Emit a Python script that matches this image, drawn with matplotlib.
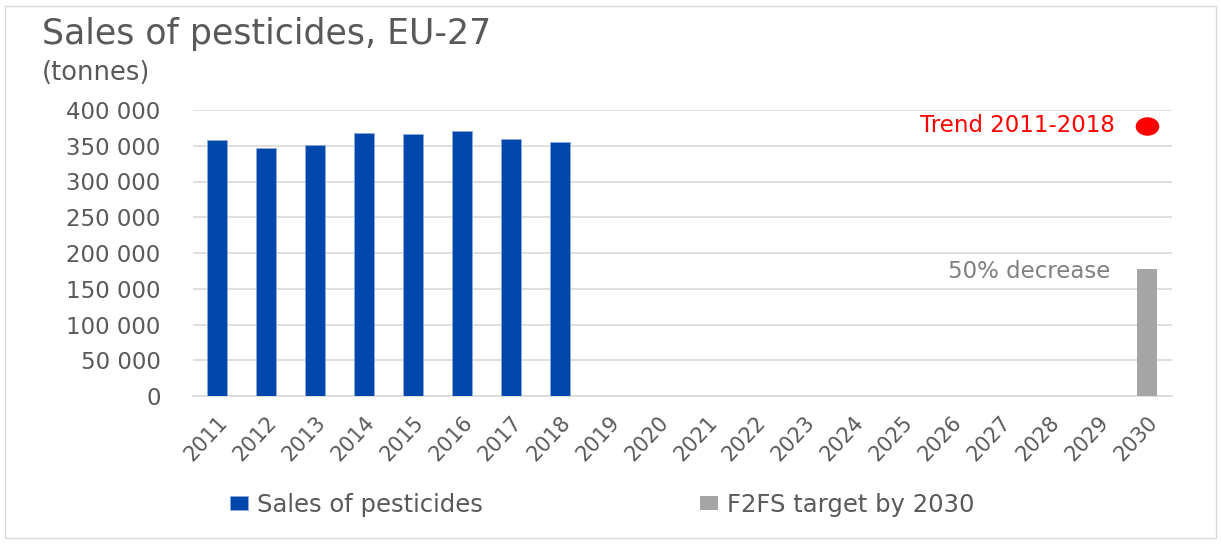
import matplotlib.pyplot as plt
import matplotlib.ticker as mticker
from matplotlib.path import Path
from matplotlib.transforms import Affine2D

# Data
years = [str(y) for y in range(2011, 2031)]
sales = [358000, 347500, 351000, 368500, 366000, 370500, 359000, 355500]
target_2030 = 177700
trend_2030 = 378000

plt.rcParams['font.family'] = ['DejaVu Sans']
txt = '#595959'

fig = plt.figure(figsize=(12.21, 5.44), dpi=100)
ax = fig.add_axes([192.5 / 1221, 1 - 396 / 544, (1171.5 - 192.5) / 1221, (396 - 110) / 544])

x = list(range(len(years)))
ax.bar(x[:len(sales)], sales, width=0.41, color='#0047AB', edgecolor='#8faadc', linewidth=0.6,
       label='Sales of pesticides', zorder=3)
ax.bar([x[-1]], [target_2030], width=0.41, color='#A5A5A5', label='F2FS target by 2030', zorder=3)
# slightly wide dot, as in the original
oval = Path.unit_circle().transformed(Affine2D().scale(1.3, 1.0))
ax.plot([x[-1]], [trend_2030], marker=oval, linestyle='none', color='red', markersize=16, zorder=4)

ax.set_xlim(-0.5, len(years) - 0.5)
ax.set_ylim(0, 400000)
ax.yaxis.set_major_locator(mticker.MultipleLocator(50000))
ax.yaxis.set_major_formatter(mticker.FuncFormatter(lambda v, p: f'{int(v):,}'.replace(',', ' ')))
ax.grid(axis='y', color='#d9d9d9', linewidth=1.2, zorder=0)
for s in ['top', 'right', 'left']:
    ax.spines[s].set_visible(False)
ax.spines['bottom'].set_color('#d9d9d9')
ax.spines['bottom'].set_linewidth(1.2)
ax.tick_params(axis='both', length=0, colors=txt)
ax.tick_params(axis='y', labelsize=16.5, pad=23)
ax.set_xticks(x)
ax.set_xticklabels(years, rotation=47, ha='right', rotation_mode='anchor', fontsize=15, color=txt)
ax.tick_params(axis='x', pad=12)

ax.text(x[-1] - 0.65, trend_2030, 'Trend 2011-2018', color='red', fontsize=16.5,
        ha='right', va='center')
ax.text(x[-1] - 0.75, target_2030 - 3000, '50% decrease', color='#808080', fontsize=16.5,
        ha='right', va='center')

fig.text(42 / 1221, 1 - 34 / 544, 'Sales of pesticides, EU-27', fontsize=25, color=txt, va='center')
fig.text(42 / 1221, 1 - 73 / 544, '(tonnes)', fontsize=18.5, color=txt, va='center')

leg = fig.legend(loc='center left', bbox_to_anchor=(230 / 1221, 1 - 505 / 544), ncol=2, frameon=False,
                 borderpad=0, borderaxespad=0, handlelength=0.75, handleheight=0.5, handletextpad=0.38,
                 columnspacing=8.9, prop={'size': 17.5})
for t in leg.get_texts():
    t.set_color(txt)

border = plt.Rectangle((5 / 1221, 6 / 544), 1 - 10 / 1221, 1 - 12 / 544, transform=fig.transFigure,
                       fill=False, edgecolor='#d9d9d9', linewidth=1)
fig.add_artist(border)

fig.savefig('out.png', dpi=100)
